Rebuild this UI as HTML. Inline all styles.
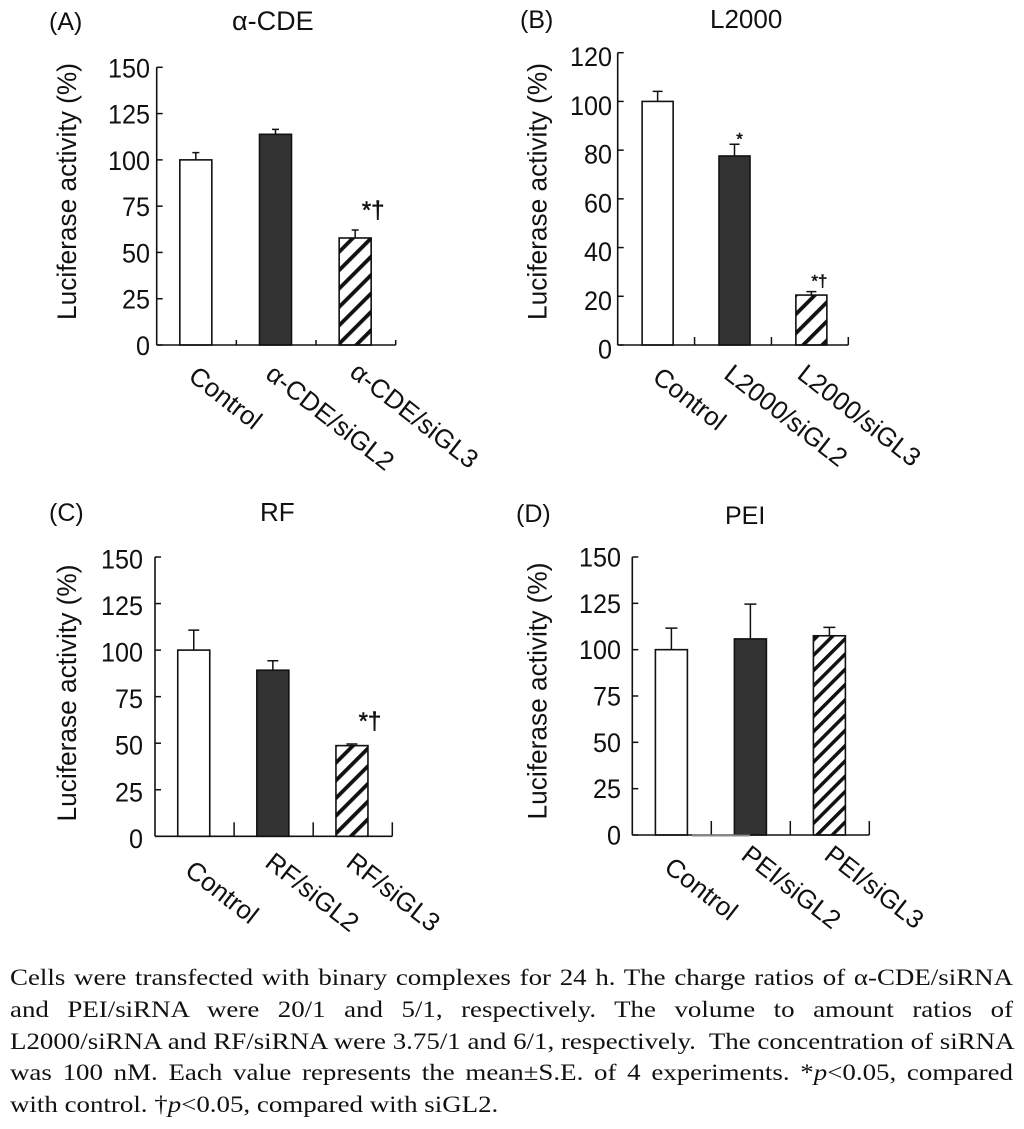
<!DOCTYPE html>
<html lang="en">
<head>
<meta charset="utf-8">
<title>Luciferase activity panels</title>
<style>
html,body{margin:0;padding:0;background:#fff;}
body{width:1024px;height:1129px;position:relative;overflow:hidden;}
svg{position:absolute;left:0;top:0;}
svg text{font-family:"Liberation Sans",sans-serif;fill:#111;}
#caption{position:absolute;left:10px;top:962px;width:857.3px;font-family:"Liberation Serif",serif;font-size:23px;color:#111;transform:scaleX(1.17);transform-origin:0 0;}
#caption div{height:31.8px;line-height:31.8px;white-space:pre;text-align:justify;text-align-last:justify;}
#caption div.last{text-align-last:left;}
</style>
</head>
<body>
<svg id="chart" width="1024" height="950" viewBox="0 0 1024 950" xmlns="http://www.w3.org/2000/svg">
<defs>
<pattern id="hatchA" patternUnits="userSpaceOnUse" width="13" height="13" patternTransform="rotate(-45)"><rect width="13" height="13" fill="#fff"/><rect width="13" height="3.8" fill="#111"/></pattern>
<pattern id="hatchB" patternUnits="userSpaceOnUse" width="13.5" height="13.5" patternTransform="rotate(-45)"><rect width="13.5" height="13.5" fill="#fff"/><rect width="13.5" height="3.8" fill="#111"/></pattern>
<pattern id="hatchC" patternUnits="userSpaceOnUse" width="12.5" height="12.5" patternTransform="rotate(-45)"><rect width="12.5" height="12.5" fill="#fff"/><rect width="12.5" height="3.8" fill="#111"/></pattern>
<pattern id="hatchD" patternUnits="userSpaceOnUse" width="10.8" height="10.8" patternTransform="rotate(-45)"><rect width="10.8" height="10.8" fill="#fff"/><rect width="10.8" height="3.5" fill="#111"/></pattern>
</defs>
<text x="49" y="30" font-size="25">(A)</text>
<text x="232" y="30" font-size="27">α-CDE</text>
<text x="520" y="28" font-size="25">(B)</text>
<text x="710" y="28" font-size="26">L2000</text>
<text x="49" y="521" font-size="25">(C)</text>
<text x="260" y="521" font-size="26">RF</text>
<text x="516" y="522" font-size="25">(D)</text>
<text x="725" y="524" font-size="25">PEI</text>
</svg>
<div id="caption">
<div>Cells were transfected with binary complexes for 24 h. The charge ratios of α-CDE/siRNA</div>
<div>and PEI/siRNA were 20/1 and 5/1, respectively. The volume to amount ratios of</div>
<div>L2000/siRNA and RF/siRNA were 3.75/1 and 6/1, respectively.  The concentration of siRNA</div>
<div>was 100 nM. Each value represents the mean±S.E. of 4 experiments. *<i>p</i>&lt;0.05, compared</div>
<div class="last">with control. †<i>p</i>&lt;0.05, compared with siGL2.</div>
</div>
<script>
// Chart data
const categoriesA = ['Control', 'α-CDE/siGL2', 'α-CDE/siGL3'];
const valuesA = [100, 113.8, 57.8];
const errorsA = [3.9, 2.7, 4.3];
const marksA = ['', '', '*†'];
const ticksA = [0, 25, 50, 75, 100, 125, 150];

const categoriesB = ['Control', 'L2000/siGL2', 'L2000/siGL3'];
const valuesB = [100, 77.6, 20.5];
const errorsB = [4.1, 4.8, 1.4];
const marksB = ['', '*', '*†'];
const ticksB = [0, 20, 40, 60, 80, 100, 120];

const categoriesC = ['Control', 'RF/siGL2', 'RF/siGL3'];
const valuesC = [100, 89.2, 48.7];
const errorsC = [10.7, 5.1, 0.9];
const marksC = ['', '', '*†'];
const ticksC = [0, 25, 50, 75, 100, 125, 150];

const categoriesD = ['Control', 'PEI/siGL2', 'PEI/siGL3'];
const valuesD = [100, 105.8, 107.5];
const errorsD = [11.6, 18.8, 4.5];
const marksD = ['', '', ''];
const ticksD = [0, 25, 50, 75, 100, 125, 150];

const SVG_NS = 'http://www.w3.org/2000/svg';
const root = document.getElementById('chart');
const INK = '#111';

function make(tag, parent, attrs) {
  const node = document.createElementNS(SVG_NS, tag);
  Object.keys(attrs).forEach(function (k) { node.setAttribute(k, attrs[k]); });
  parent.appendChild(node);
  return node;
}

function drawPanel(p) {
  const top = p.ticks[p.ticks.length - 1];
  const yScale = function (v) { return p.baseY - (v / top) * (p.baseY - p.topY); };
  const band = (p.endX - p.axisX) / p.categories.length;
  const xScale = function (i) { return p.axisX + band * (i + 0.5); };

  const g = make('g', root, {});
  
  

  // bars and error bars
  p.values.forEach(function (v, i) {
    const cx = xScale(i) + p.barShift;
    const yTop = yScale(v);
    const yErr = yScale(v + p.errors[i]);
    const line = make('path', g, {
      d: 'M' + cx + ' ' + yTop + 'V' + yErr + 'M' + (cx - p.cap / 2) + ' ' + yErr + 'H' + (cx + p.cap / 2),
      stroke: INK, 'stroke-width': 1.5, fill: 'none'
    });
    
    

    const fills = ['#fff', '#333', 'url(#hatch' + p.id + ')'];
    const bar = make('rect', g, {
      x: cx - p.barW / 2, y: yTop, width: p.barW, height: p.baseY - yTop,
      fill: fills[i], stroke: INK, 'stroke-width': 1.6
    });
    
    

    if (p.marks[i]) {
      const mark = make('text', g, {
        x: cx + p.markDx[i], y: yErr - p.markGap[i], 'font-size': p.markSize[i], 'text-anchor': 'middle',
        stroke: '#111', 'stroke-width': 0.5
      });
      mark.textContent = p.marks[i];
      
      
    }

    const lbl = make('text', g, {
      'font-size': 26,
      'transform': 'translate(' + (xScale(i) + p.labelDx[i]) + ' ' + (p.baseY + p.labelDy[i]) + ') rotate(' + p.labelAngle + ')'
    });
    lbl.textContent = p.categories[i];
    
    
  });

  // axes
  const yAxis = make('line', g, { x1: p.axisX, x2: p.axisX, y1: p.topY, y2: p.baseY, stroke: INK, 'stroke-width': 1.6 });
  
  
  const xAxis = make('line', g, { x1: p.axisX, x2: p.endX, y1: p.baseY, y2: p.baseY, stroke: INK, 'stroke-width': 1.6 });
  
  

  p.ticks.forEach(function (t) {
    const yt = yScale(t);
    const tick = make('line', g, { x1: p.axisX, x2: p.axisX + 6, y1: yt, y2: yt, stroke: INK, 'stroke-width': 1.5 });
    
    
    const txt = String(t);
    const label = make('text', g, {
      x: p.labelX, y: yt + 9.5 + p.tickDy, 'font-size': 27, 'text-anchor': 'end',
      textLength: txt.length * 14, lengthAdjust: 'spacingAndGlyphs'
    });
    label.textContent = txt;
    
    
  });

  p.categories.forEach(function (c, i) {
    const xt = p.axisX + band * (i + 1);
    const tick = make('line', g, { x1: xt, x2: xt, y1: p.baseY, y2: p.baseY - p.xTick, stroke: INK, 'stroke-width': 1.5 });
    
    
  });

  const title = make('text', g, {
    'font-size': 27, 'text-anchor': 'middle', textLength: 257, lengthAdjust: 'spacingAndGlyphs',
    transform: 'translate(' + p.titleX + ' ' + p.titleY + ') rotate(-90)'
  });
  title.textContent = 'Luciferase activity (%)';
  
  
}

drawPanel({
  id: 'A', categories: categoriesA, values: valuesA, errors: errorsA, marks: marksA, ticks: ticksA,
  axisX: 156.7, endX: 395.7, topY: 67.3, baseY: 345, barW: 32, barShift: -0.7, cap: 7, xTick: 5,
  labelX: 150, tickDy: 0.5, titleX: 76, titleY: 191.5, labelAngle: 38,
  labelDx: [-9.5, -12, -7.5], labelDy: [34, 32, 30],
  markDx: [0, 0, 18], markGap: [0, 0, 12], markSize: [0, 0, 24]
});
drawPanel({
  id: 'B', categories: categoriesB, values: valuesB, errors: errorsB, marks: marksB, ticks: ticksB,
  axisX: 617.7, endX: 848.3, topY: 52.7, baseY: 345, barW: 31, barShift: 1.5, cap: 10, xTick: 8,
  labelX: 612, tickDy: 4, titleX: 546.7, titleY: 191.5, labelAngle: 38,
  labelDx: [-5, -10.5, -14], labelDy: [35, 32, 32],
  markDx: [0, 5, 8], markGap: [0, 0, 5], markSize: [0, 17, 17]
});
drawPanel({
  id: 'C', categories: categoriesC, values: valuesC, errors: errorsC, marks: marksC, ticks: ticksC,
  axisX: 155, endX: 392.3, topY: 557, baseY: 836.3, barW: 32, barShift: -0.8, cap: 11, xTick: 14,
  labelX: 143, tickDy: 2, titleX: 76, titleY: 693, labelAngle: 38,
  labelDx: [-11, -10, -8], labelDy: [37, 29, 29],
  markDx: [0, 0, 18], markGap: [0, 0, 15], markSize: [0, 0, 24]
});
drawPanel({
  id: 'D', categories: categoriesD, values: valuesD, errors: errorsD, marks: marksD, ticks: ticksD,
  axisX: 632.3, endX: 869.3, topY: 557, baseY: 835, barW: 32, barShift: -0.4, cap: 12, xTick: 14,
  labelX: 621, tickDy: 0, titleX: 546.7, titleY: 691, labelAngle: 38,
  labelDx: [-9, -11, -7], labelDy: [35, 23, 23],
  markDx: [0, 0, 0], markGap: [0, 0, 0], markSize: [0, 0, 0]
});

const greySegment = make('line', root, { x1: 692, x2: 750, y1: 835.5, y2: 835.5, stroke: '#888', 'stroke-width': 2 });


</script>
</body>
</html>
